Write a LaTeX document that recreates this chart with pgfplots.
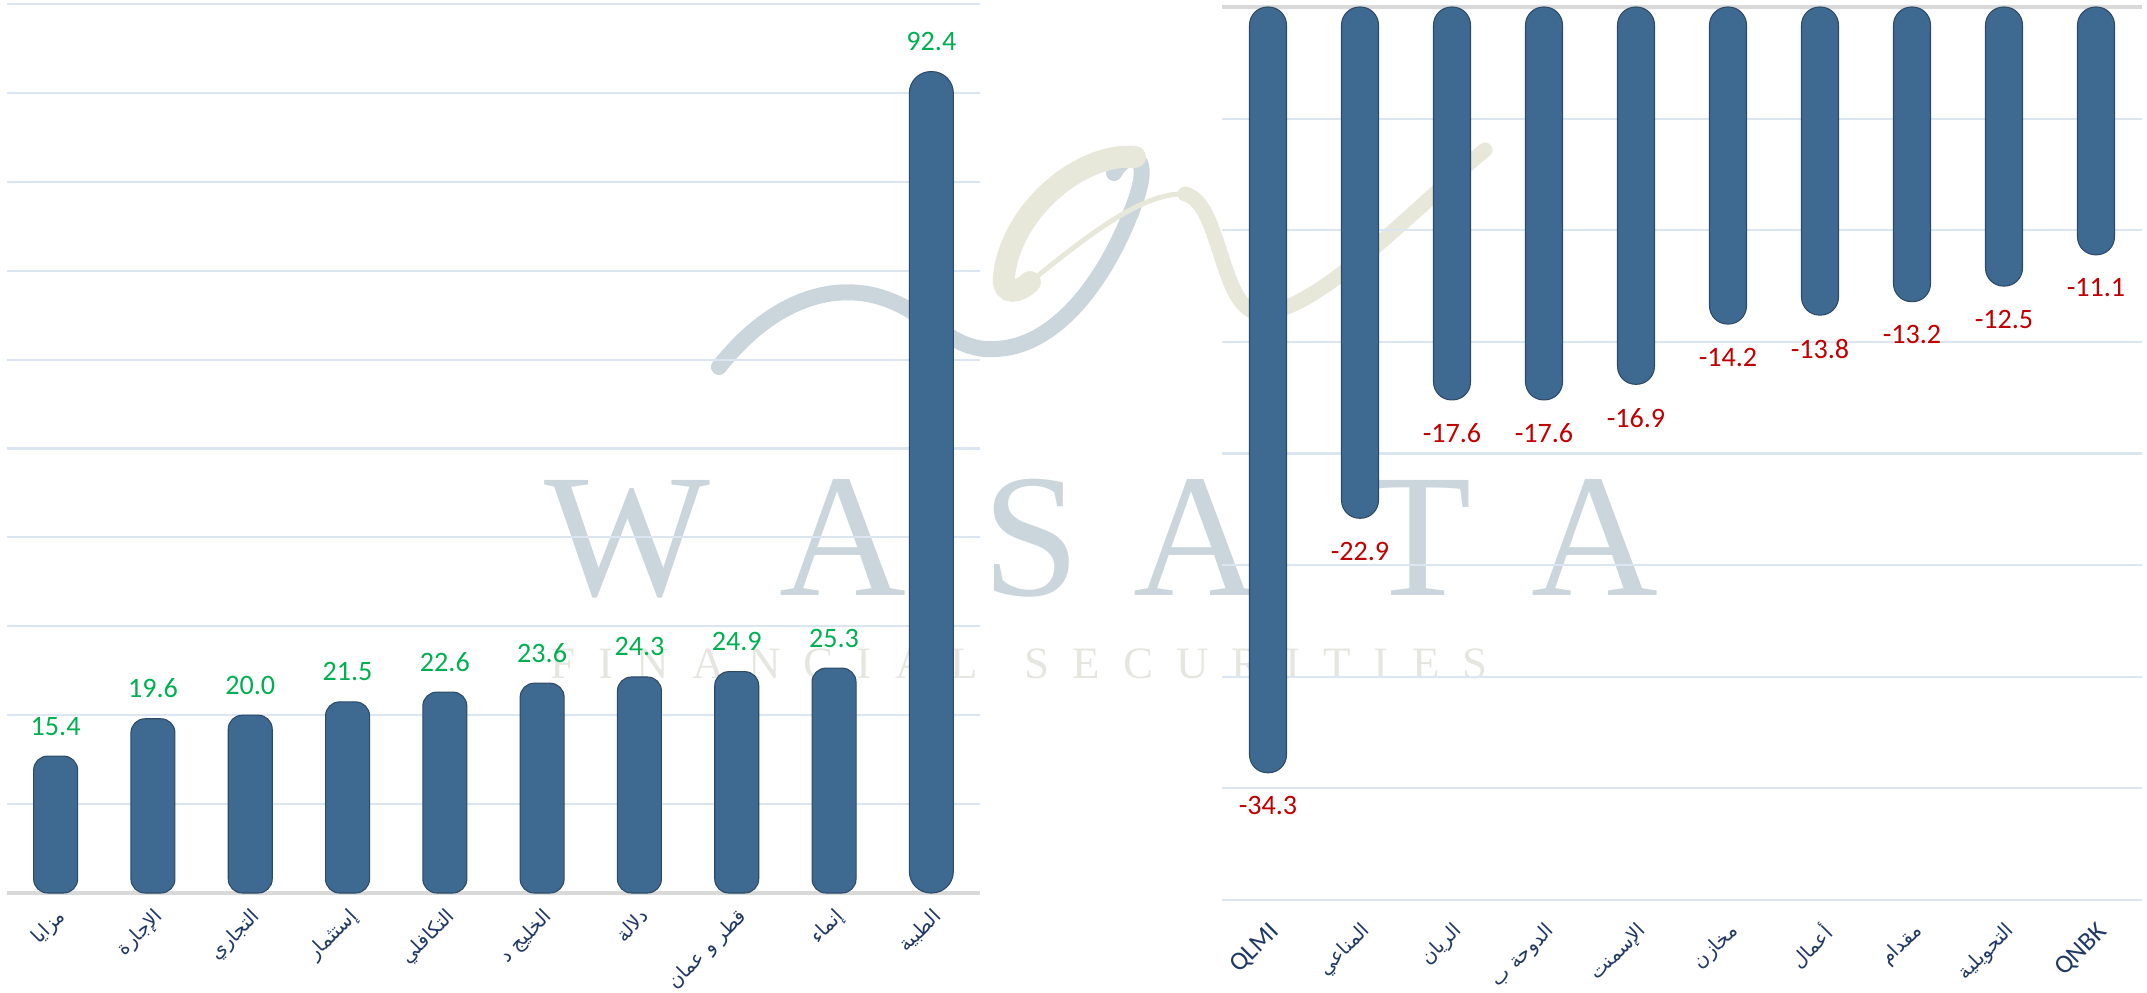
\documentclass[border=0pt]{standalone}
\usepackage{fontspec}
\usepackage{pgfplots}
\pgfplotsset{compat=1.18}
\setmainfont{Carlito}
\newfontfamily\arabicfont[Script=Arabic]{DejaVu Sans}
\newfontfamily\wmfont{Liberation Serif}
\TeXXeTstate=1
\newcommand\arf{\arabicfont\fontsize{5.6}{7}\selectfont}

\definecolor{barblue}{RGB}{62,106,146}
\definecolor{baredge}{RGB}{44,74,104}
\definecolor{gridblue}{RGB}{220,230,242}
\definecolor{zeroline}{RGB}{217,217,217}
\definecolor{posgreen}{RGB}{0,176,80}
\definecolor{negred}{RGB}{192,0,0}
\definecolor{navy}{RGB}{31,56,100}
\definecolor{wmblue}{RGB}{202,214,220}
\definecolor{wmbeige}{RGB}{232,232,218}
\definecolor{wmtext}{RGB}{230,230,224}

\pgfplotsset{
  pillchart/.style={
    scale only axis, ybar, bar shift=0pt, clip=false,
    xmin=-0.5, xmax=9.5, xtick={0,...,9},
    axis line style={draw=none}, major tick length=0pt,
    ymajorgrids, major grid style={gridblue, line width=0.6pt},
    yticklabel={\empty},
    extra y tick style={grid=major, major grid style={zeroline, line width=0.9pt}},
    nodes near coords={\pgfmathprintnumber[fixed, fixed zerofill, precision=1,
      assume math mode=true]{\pgfplotspointmeta}},
    every node near coord/.append style={font=\fontsize{8}{9}\selectfont},
  },
  labelrot/.style={xticklabel style={yshift=#1, rotate=45, anchor=north east,
    inner sep=0pt, text=navy, font=\fontsize{7.4}{8}\selectfont}},
  pill/.style={ybar, bar shift=0pt, fill=barblue, draw=baredge, line width=0.3pt,
    rounded corners=#1},
}

\begin{document}
\begin{tikzpicture}
\useasboundingbox (0,0) rectangle (21.47,9.92);

% watermark
\draw[wmblue, line width=0.16cm, line cap=round]
  (7.19,6.25) .. controls (7.7,6.9) and (8.3,7.1) .. (8.8,6.95)
  .. controls (9.3,6.8) and (9.5,6.4) .. (9.95,6.43)
  .. controls (10.6,6.45) and (11.1,7.2) .. (11.35,7.9)
  .. controls (11.55,8.45) and (11.25,8.4) .. (11.14,8.19);
\draw[wmbeige, line width=0.22cm, line cap=round]
  (11.35,8.35) .. controls (10.8,8.4) and (10.1,7.8) .. (10.04,7.15)
  .. controls (10.02,6.95) and (10.2,7.0) .. (10.3,7.1);
\draw[wmbeige, line width=0.05cm]
  (10.3,7.1) .. controls (10.8,7.5) and (11.4,8.0) .. (11.85,7.98);
\draw[wmbeige, line width=0.15cm, line cap=round]
  (11.85,7.98) .. controls (12.2,7.9) and (12.2,6.9) .. (12.55,6.8)
  .. controls (13.1,6.7) and (14.2,7.9) .. (14.85,8.42);
\foreach \x/\l in {6.27/W, 8.43/A, 10.31/S, 11.97/A, 14.18/T, 15.95/A}
  \node[anchor=base, text=wmblue, inner sep=0pt,
    font=\wmfont\fontsize{50}{60}\selectfont] at (\x,3.97) {\l};
\node[anchor=base west, text=wmtext, inner sep=0pt,
  font=\wmfont\fontsize{12.8}{14}\selectfont] at (5.50,3.14)
  {\makebox[9.37cm][s]{F\hfill I\hfill N\hfill A\hfill N\hfill C\hfill I\hfill A\hfill L\hfill\hfill
   S\hfill E\hfill C\hfill U\hfill R\hfill I\hfill T\hfill I\hfill E\hfill S}};

% left chart: top 10 gainers
\begin{axis}[pillchart, labelrot=-0.13cm,
    at={(0.07cm,0.99cm)}, anchor=south west,
    width=9.73cm, height=8.89cm,
    ymin=0, ymax=100, ytick={10,20,...,100}, extra y ticks={0},
    bar width=0.44cm,
    xticklabels={{\arf\beginR مزايا\endR},{\arf\beginR الإجارة\endR},
      {\arf\beginR التجاري\endR},{\arf\beginR إستثمار\endR},
      {\arf\beginR التكافلي\endR},{\arf\beginR الخليج د\endR},
      {\arf\beginR دلالة\endR},{\arf\beginR قطر و عمان\endR},
      {\arf\beginR إنماء\endR},{\arf\beginR الطبية\endR}},
    every node near coord/.append style={text=posgreen, yshift=0.086cm},
  ]
  \addplot[pill=0.14cm] coordinates {(0,15.4) (1,19.6) (2,20.0) (3,21.5) (4,22.6)
    (5,23.6) (6,24.3) (7,24.9) (8,25.3)};
  \addplot[pill=0.215cm] coordinates {(9,92.4)};
\end{axis}

% right chart: top 10 losers
\begin{axis}[pillchart, labelrot=-0.20cm,
    at={(12.22cm,0.92cm)}, anchor=south west,
    width=9.20cm, height=8.93cm,
    ymin=-40, ymax=0, ytick={-40,-35,...,-5}, extra y ticks={0},
    bar width=0.37cm,
    xticklabels={QLMI,{\arf\beginR المناعي\endR},{\arf\beginR الريان\endR},
      {\arf\beginR الدوحة ب\endR},{\arf\beginR الإسمنت\endR},
      {\arf\beginR مخازن\endR},{\arf\beginR أعمال\endR},
      {\arf\beginR مقدام\endR},{\arf\beginR التحويلية\endR},QNBK},
    every node near coord/.append style={text=negred, yshift=-0.116cm},
  ]
  \addplot[pill=0.18cm] coordinates {(0,-34.3) (1,-22.9) (2,-17.6) (3,-17.6) (4,-16.9)
    (5,-14.2) (6,-13.8) (7,-13.2) (8,-12.5) (9,-11.1)};
\end{axis}
\end{tikzpicture}
\end{document}
